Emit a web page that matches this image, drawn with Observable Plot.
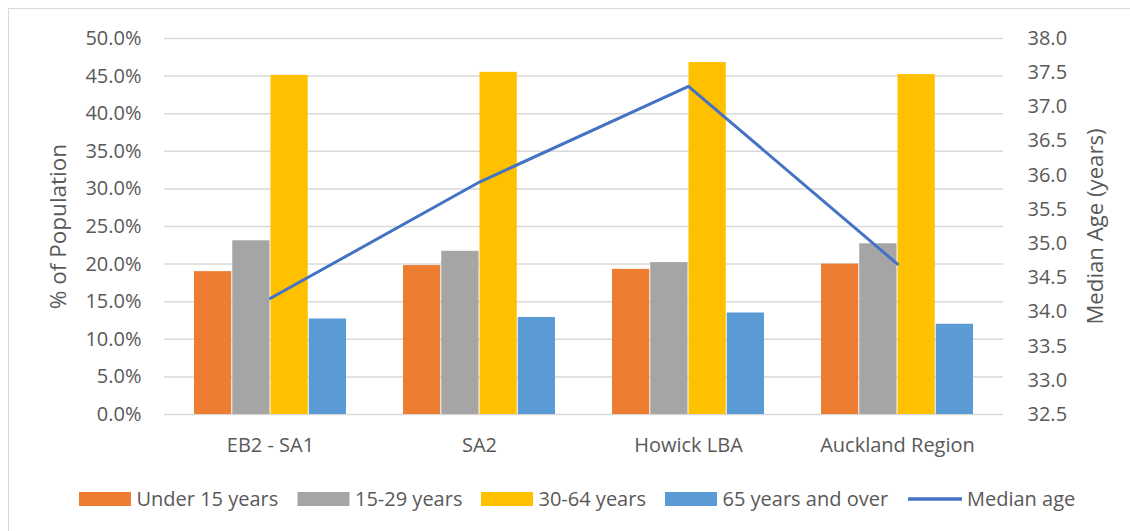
<!DOCTYPE html>
<html>
<head>
<meta charset="utf-8">
<script src="https://cdn.jsdelivr.net/npm/d3@7"></script>
<script src="https://cdn.jsdelivr.net/npm/@observablehq/plot@0.6"></script>
<style>
  html, body { margin: 0; padding: 0; background: #fff; }
  #wrap { position: relative; width: 1130px; height: 531px; overflow: hidden; font-family: "Open Sans", sans-serif; }
  #frame { position: absolute; left: 8px; top: 8px; width: 1200px; height: 600px; border: 1.5px solid #d9d9d9; box-sizing: border-box; }
  #chart { position: absolute; left: 0; top: 0; }
  #legend { position: absolute; left: 0; top: 470px; }
</style>
</head>
<body>
<div id="wrap">
  <div id="frame"></div>
  <div id="chart"></div>
  <div id="legend"></div>
</div>
<script>
// ---- data ----
const regions = ["EB2 - SA1", "SA2", "Howick LBA", "Auckland Region"];
const seriesNames = ["Under 15 years", "15-29 years", "30-64 years", "65 years and over"];
const under15 = [19.0, 19.8, 19.3, 20.0];
const age15to29 = [23.1, 21.7, 20.2, 22.7];
const age30to64 = [45.1, 45.5, 46.8, 45.2];
const age65plus = [12.7, 12.9, 13.5, 12.0];
const medianAge = [34.2, 35.9, 37.3, 34.7];
const leftTicks = [0, 5, 10, 15, 20, 25, 30, 35, 40, 45, 50];
const rightTicks = [32.5, 33.0, 33.5, 34.0, 34.5, 35.0, 35.5, 36.0, 36.5, 37.0, 37.5, 38.0];
const seriesColors = ["#ED7D31", "#A5A5A5", "#FFC000", "#5B9BD5"];
const lineColor = "#4472C4";
const lineName = "Median age";

// ---- derived tables ----
const seriesValues = [under15, age15to29, age30to64, age65plus];
const barData = seriesNames.map((s, i) => regions.map((r, j) => ({region: r, series: s, value: seriesValues[i][j]})));
const rightMin = 32.5, rightMax = 38.0;
const toPct = a => (a - rightMin) / (rightMax - rightMin) * 50;
const fromPct = p => rightMin + p / 50 * (rightMax - rightMin);
const lineData = regions.map((r, j) => ({region: r, age: medianAge[j]}));

// ---- layout ----
const W = 1130, H = 470;
const mL = 164, mR = 1130 - 1003, mT = 38, mB = H - 414;
const pInner = 0.2706, pOuter = pInner / 2;
const step = (W - mL - mR) / (regions.length - pInner + 2 * pOuter);
const bandW = step * (1 - pInner);
const barW = bandW / seriesNames.length;
const textColor = "#595959";
const gridColor = "#d9d9d9";

const marks = [
  Plot.gridY(leftTicks, {stroke: gridColor, strokeOpacity: 1, strokeWidth: 1.5}),
  ...barData.map((d, i) => Plot.barY(d, {
    x: "region", y: "value", fill: seriesColors[i],
    insetLeft: i * barW, insetRight: (seriesNames.length - 1 - i) * barW
  })),
  Plot.lineY(lineData, {x: "region", y: d => toPct(d.age), stroke: lineColor, strokeWidth: 3, strokeLinejoin: "round"}),
  Plot.axisY(leftTicks, {anchor: "left", tickSize: 0, tickPadding: 23, tickFormat: d => d.toFixed(1) + "%", label: null, fill: textColor, fontSize: 20}),
  Plot.axisY(rightTicks.map(toPct), {anchor: "right", tickSize: 0, tickPadding: 24, tickFormat: d => fromPct(d).toFixed(1), label: null, fill: textColor, fontSize: 20}),
  Plot.axisX({anchor: "bottom", tickSize: 0, tickPadding: 23, label: null, fill: textColor, fontSize: 20}),
  Plot.text(["% of Population"], {frameAnchor: "left", dx: 58 - mL, rotate: -90, textAnchor: "middle", lineAnchor: "middle", fill: textColor, fontSize: 22.5}),
  Plot.text(["Median Age (years)"], {frameAnchor: "right", dx: 1095 - (W - mR), rotate: -90, textAnchor: "middle", lineAnchor: "middle", fill: textColor, fontSize: 22.2})
];

const chart = Plot.plot({
  width: W, height: H,
  marginLeft: mL, marginRight: mR, marginTop: mT, marginBottom: mB,
  style: {fontFamily: "'Open Sans', sans-serif", background: "transparent", overflow: "visible"},
  x: {domain: regions, paddingInner: pInner, paddingOuter: pOuter, axis: null},
  y: {domain: [0, 50], axis: null},
  marks
});
document.getElementById("chart").appendChild(chart);

// ---- legend (SVG) ----
const legendItems = [
  ...seriesNames.map((s, i) => ({name: s, color: seriesColors[i], type: "rect"})),
  {name: lineName, color: lineColor, type: "line"}
];
const legendX = [79, 297.5, 481, 665, 908];
const svg = d3.create("svg").attr("width", W).attr("height", 61)
  .style("font-family", "'Open Sans', sans-serif");
const cy = 29;
legendItems.forEach((it, i) => {
  const g = svg.append("g").attr("transform", `translate(${legendX[i]},0)`);
  if (it.type === "rect") {
    g.append("rect").attr("x", 0).attr("y", cy - 7).attr("width", 52).attr("height", 14).attr("fill", it.color);
  } else {
    g.append("line").attr("x1", 0).attr("x2", 54).attr("y1", cy).attr("y2", cy)
      .attr("stroke", it.color).attr("stroke-width", 3.5);
  }
  g.append("text").attr("x", it.type === "rect" ? 57.5 : 59).attr("y", cy).attr("dy", "0.35em")
    .attr("fill", textColor).attr("font-size", 20).text(it.name);
});
document.getElementById("legend").appendChild(svg.node());
</script>
</body>
</html>
